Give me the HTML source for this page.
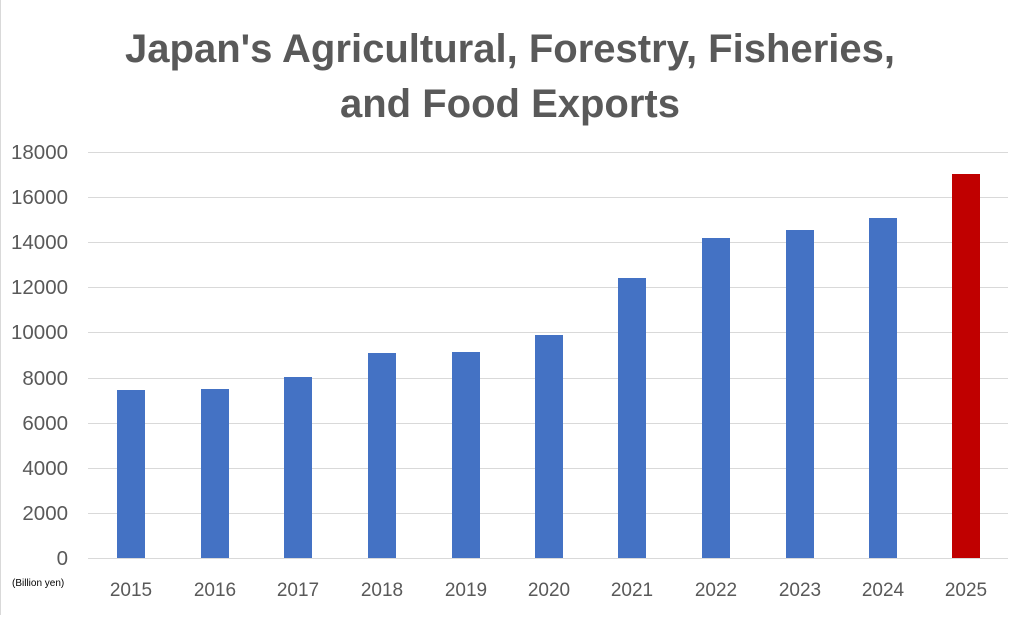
<!DOCTYPE html>
<html><head><meta charset="utf-8"><style>html,body{margin:0;padding:0;background:#fff}</style></head>
<body>
<svg width="1024" height="615" xmlns="http://www.w3.org/2000/svg" font-family="Liberation Sans, sans-serif">
<rect width="1024" height="615" fill="#fff"/>
<line x1="0.5" y1="0" x2="0.5" y2="615" stroke="#d9d9d9"/>
<text x="510" y="62" text-anchor="middle" font-size="40" font-weight="bold" fill="#595959" textLength="770" lengthAdjust="spacingAndGlyphs">Japan's Agricultural, Forestry, Fisheries,</text>
<text x="510" y="117" text-anchor="middle" font-size="40" font-weight="bold" fill="#595959" textLength="340" lengthAdjust="spacingAndGlyphs">and Food Exports</text>
<g stroke="#d9d9d9" stroke-width="1">
<line x1="88" x2="1008" y1="152.5" y2="152.5"/><line x1="88" x2="1008" y1="197.5" y2="197.5"/>
<line x1="88" x2="1008" y1="242.5" y2="242.5"/><line x1="88" x2="1008" y1="287.5" y2="287.5"/>
<line x1="88" x2="1008" y1="332.5" y2="332.5"/><line x1="88" x2="1008" y1="378.5" y2="378.5"/>
<line x1="88" x2="1008" y1="423.5" y2="423.5"/><line x1="88" x2="1008" y1="468.5" y2="468.5"/>
<line x1="88" x2="1008" y1="513.5" y2="513.5"/><line x1="88" x2="1008" y1="558.5" y2="558.5"/>
</g>
<g font-size="20.5" fill="#595959" text-anchor="end">
<text x="68" y="159">18000</text><text x="68" y="204">16000</text><text x="68" y="249">14000</text>
<text x="68" y="294">12000</text><text x="68" y="339">10000</text><text x="68" y="385">8000</text>
<text x="68" y="430">6000</text><text x="68" y="475">4000</text><text x="68" y="520">2000</text>
<text x="68" y="565">0</text>
</g>
<g fill="#4472c4">
<rect x="117" y="390" width="28" height="168"/>
<rect x="201" y="389" width="28" height="169"/>
<rect x="284" y="377" width="28" height="181"/>
<rect x="368" y="353" width="28" height="205"/>
<rect x="452" y="352" width="28" height="206"/>
<rect x="535" y="335" width="28" height="223"/>
<rect x="618" y="278" width="28" height="280"/>
<rect x="702" y="238" width="28" height="320"/>
<rect x="786" y="230" width="28" height="328"/>
<rect x="869" y="218" width="28" height="340"/>
</g>
<rect x="952" y="174" width="28" height="384" fill="#c00000"/>
<g font-size="19" fill="#595959" text-anchor="middle">
<text x="131" y="596">2015</text><text x="215" y="596">2016</text><text x="298" y="596">2017</text>
<text x="382" y="596">2018</text><text x="466" y="596">2019</text><text x="549" y="596">2020</text>
<text x="632" y="596">2021</text><text x="716" y="596">2022</text><text x="800" y="596">2023</text>
<text x="883" y="596">2024</text><text x="966" y="596">2025</text>
</g>
<text x="12" y="586" font-size="10" fill="#000">(Billion yen)</text>
</svg>
</body></html>
